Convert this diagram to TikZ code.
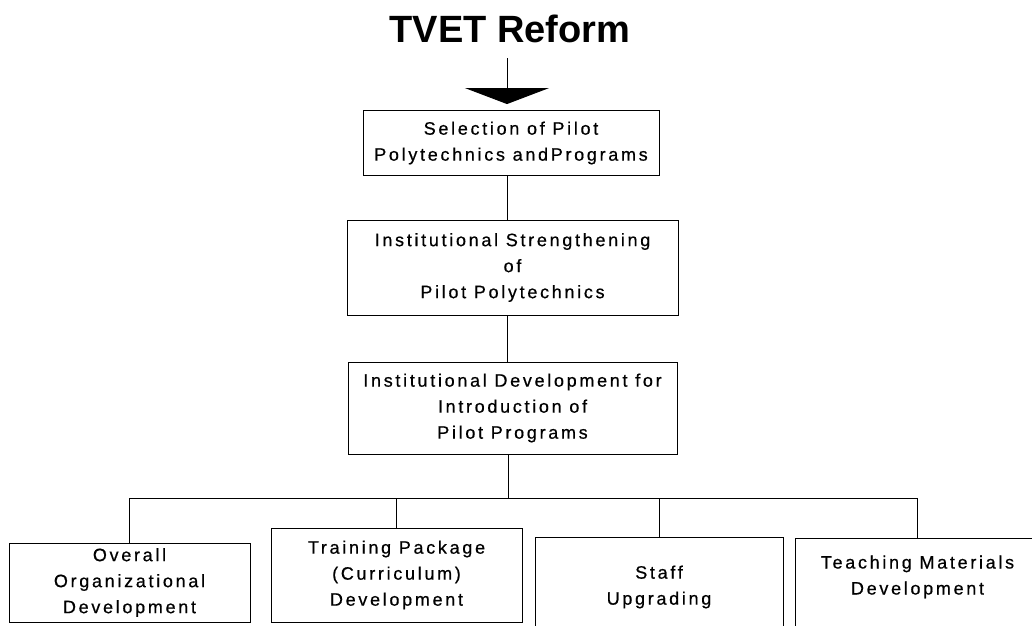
\documentclass[tikz,border=0pt]{standalone}
\usepackage{fontspec}
\setmainfont{Liberation Sans}
\newfontfamily\spacedfont[LetterSpace=15,FakeBold=0.6]{Liberation Sans}
\usetikzlibrary{positioning,arrows.meta}

\tikzset{
  stage/.style={draw, line width=0.9, align=center, inner sep=0,
    font=\spacedfont\fontsize{18}{26}\selectfont},
  link/.style={line width=0.9},
}

\begin{document}
\begin{tikzpicture}[x=1pt,y=-1pt]
\clip (0,0) rectangle (1032,625);
\node[font=\bfseries\fontsize{38}{40}\selectfont, inner sep=0] (title) at (510,29) {TVET Reform};
\coordinate (spine) at (507,0);
\node[stage, minimum width=296pt, minimum height=65pt] (select) at (511,143) {Selection of Pilot\\Polytechnics andPrograms};
\node[stage, minimum width=331pt, minimum height=95pt] (inst) at (512.5,267.5) {Institutional Strengthening\\of\\Pilot Polytechnics};
\node[stage, minimum width=329pt, minimum height=92pt] (devel) at (512.5,408) {Institutional Development for\\Introduction of\\Pilot Programs};
\node[stage, minimum width=241pt, minimum height=79pt] (overall) at (129.5,582.5) {Overall\\Organizational\\Development};
\node[stage, minimum width=251pt, minimum height=94pt] (package) at (396.5,575) {Training Package\\(Curriculum)\\Development};
\node[stage, minimum width=248pt, minimum height=100pt] (staff) at (659,587) {Staff\\Upgrading};
\node[stage, minimum width=245pt, minimum height=100pt] (materials) at (917.5,588) {Teaching Materials\\Development\\ \mbox{}};

\draw[link, -{Triangle[width=84pt,length=16pt]}, shorten <=15pt, shorten >=6pt] (title.south -| spine) -- (select.north -| spine);
\draw[link] (select.south -| spine) -- (inst.north -| spine);
\draw[link] (inst.south -| spine) -- (devel.north -| spine);
\coordinate (bus) at (508,498);
\draw[link] (devel.south -| bus) -- (bus);
\foreach \n in {overall,package,staff,materials}
  \draw[link] (bus) -| (\n.north);
\end{tikzpicture}
\end{document}
